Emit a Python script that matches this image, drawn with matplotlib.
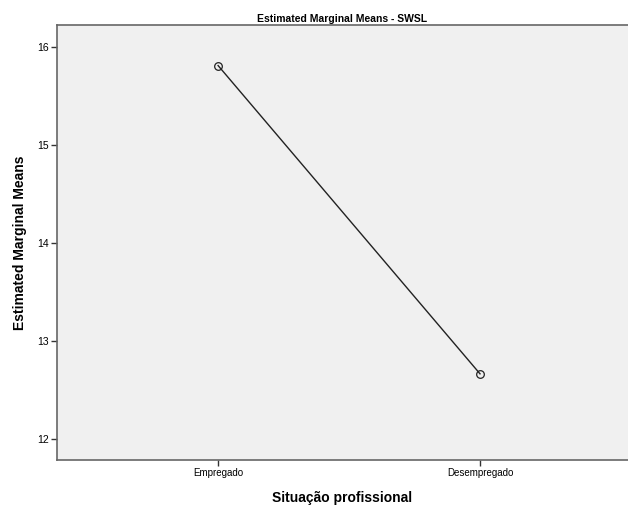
import matplotlib

matplotlib.use("Agg")
import matplotlib.pyplot as plt

categories = ["Empregado", "Desempregado"]
means = [15.81, 12.665]
y_ticks = [12, 13, 14, 15, 16]

plt.rcParams["font.family"] = ["Liberation Sans", "DejaVu Sans"]

fig = plt.figure(figsize=(6.28, 5.09), dpi=100)
ax = fig.add_axes([0.0908, 0.0963, 0.9092, 0.8546])
ax.set_facecolor("#f0f0f0")

x = list(range(len(categories)))
ax.plot(x, means, color="#222222", linewidth=1.0, marker="o", markersize=5.5,
        markerfacecolor="none", markeredgecolor="#222222", markeredgewidth=0.9)

ax.set_xlim(-0.615, 1.565)
ax.set_ylim(11.786, 16.224)
ax.set_xticks(x)
ax.set_xticklabels(categories, fontsize=7)
ax.set_yticks(y_ticks)
ax.set_yticklabels([str(t) for t in y_ticks], fontsize=7.5)
ax.tick_params(axis="both", length=4, width=1.0, color="#333333", pad=2)

for side in ("left", "bottom", "top"):
    ax.spines[side].set_color("#666666")
    ax.spines[side].set_linewidth(1.2)
ax.spines["right"].set_visible(False)

ax.set_title("Estimated Marginal Means - SWSL", fontsize=7.5, fontweight="bold", pad=2)
ax.set_ylabel("Estimated Marginal Means", fontsize=10, fontweight="bold", labelpad=7)
ax.set_xlabel("Situação profissional", fontsize=10, fontweight="bold", labelpad=9)

fig.savefig("out.png", dpi=100)
plt.close(fig)
